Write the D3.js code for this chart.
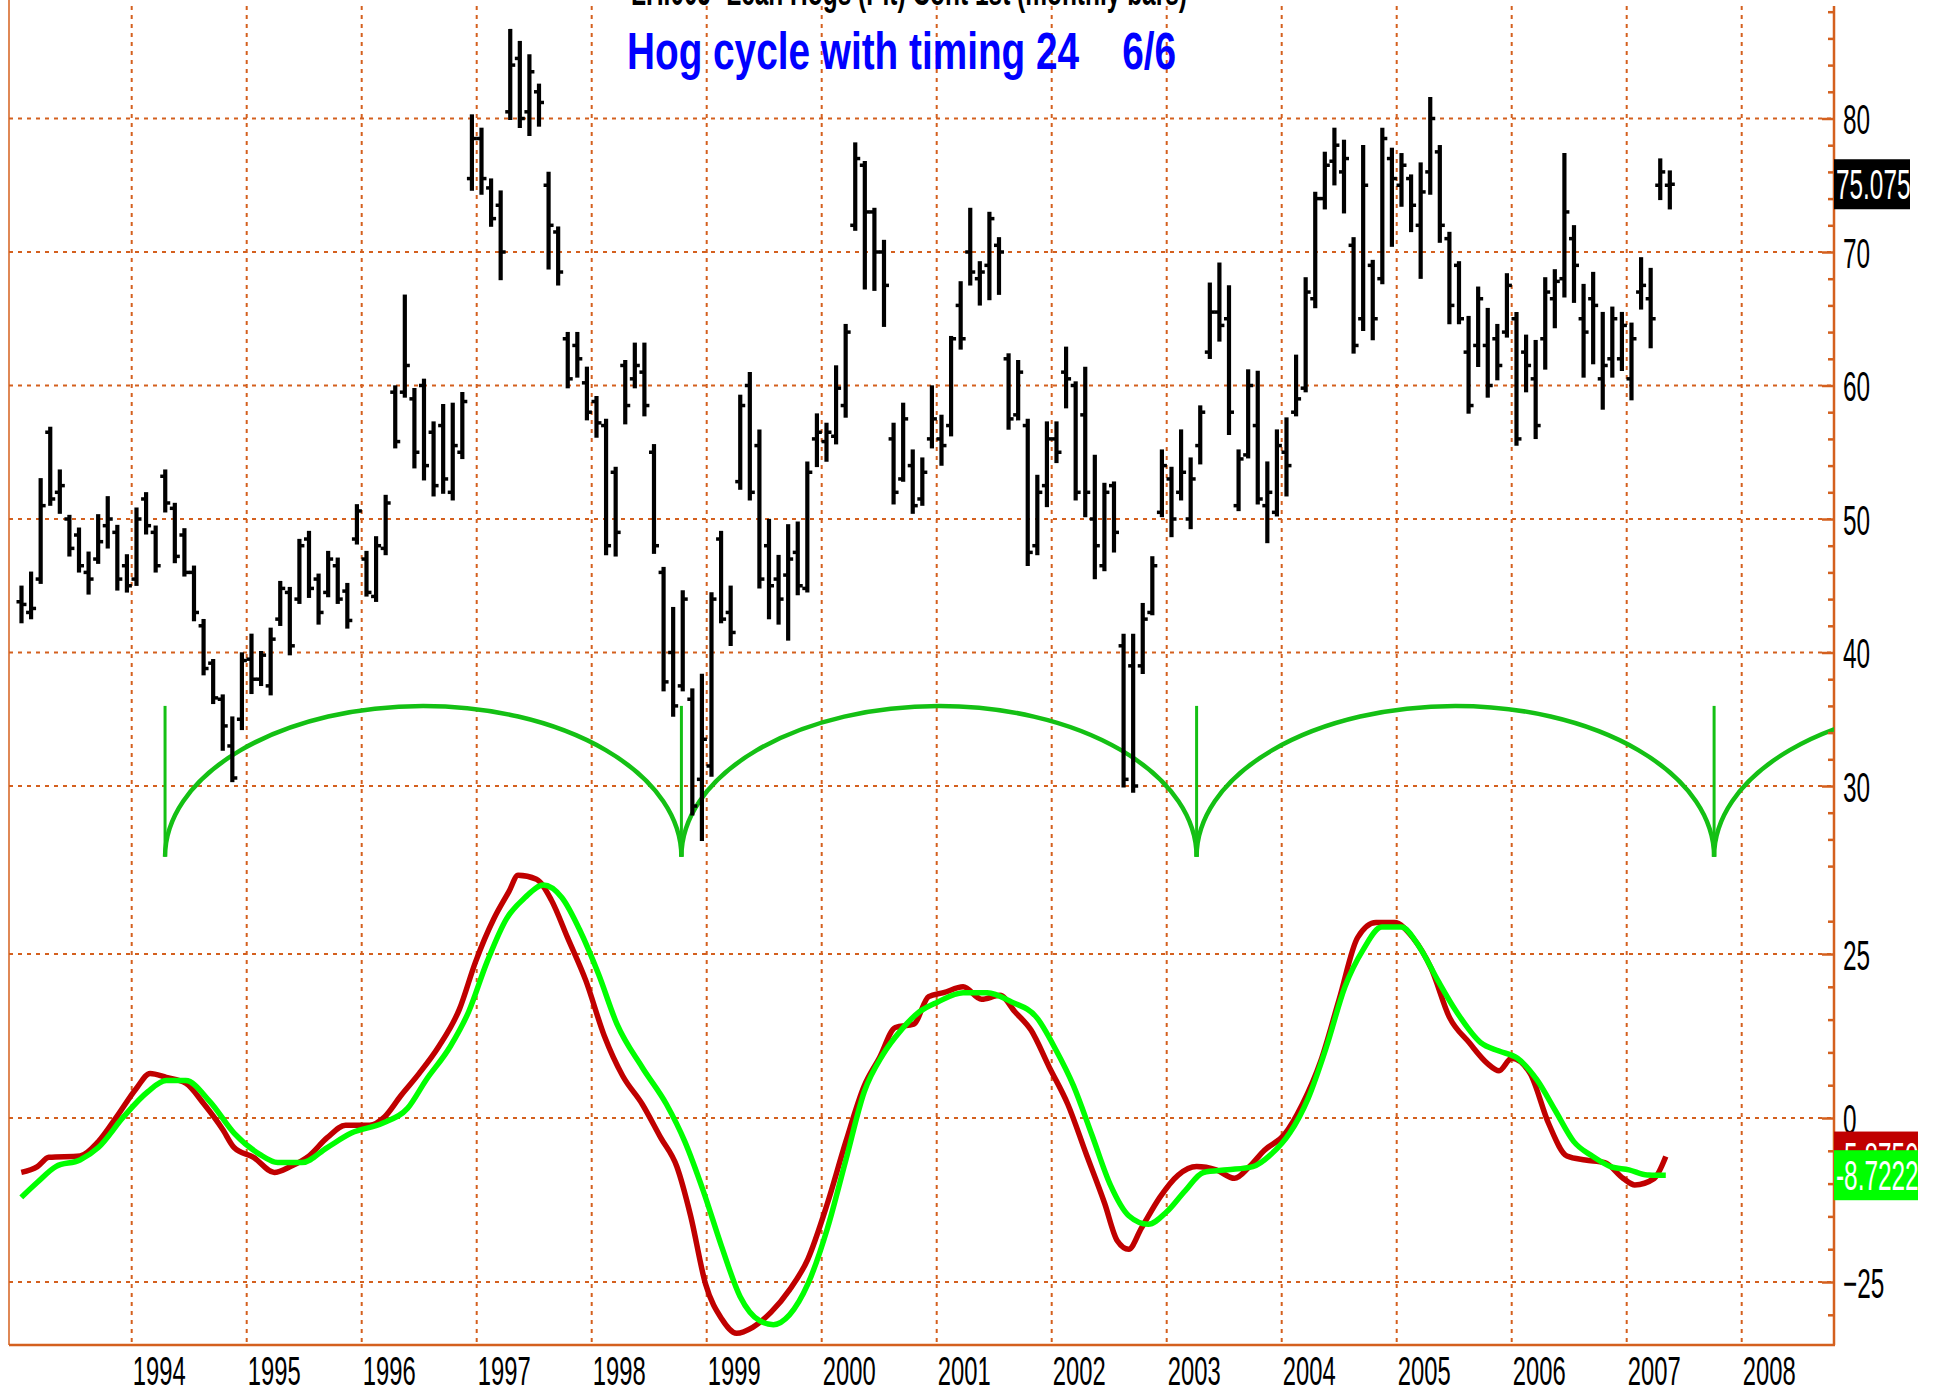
<!DOCTYPE html>
<html>
<head>
<meta charset="utf-8">
<script src="https://cdn.jsdelivr.net/npm/d3@7"></script>
<style>
  body { margin: 0; background: #fff; }
  svg { display: block; }
</style>
</head>
<body>
<div id="chart"></div>
<script>
var WIDTH = 1935;
var HEIGHT = 1393;
var PLOT = { LEFT: 9, RIGHT: 1834, TOP: 6, BOTTOM: 1345 };
var FONT = "'Liberation Sans', Arial, Helvetica, sans-serif";
var GRID = '#d4601e';
var NARROW = 0.58;
var LABEL_SIZE = 42;

// monthly bars, first bar = Jan 1993
const firstYear = 1993;
const high = [
  44.9, 45.95, 52.95, 56.8, 53.6, 50.2, 49.25, 47.45, 50.25, 51.6, 49.45, 47.25,
  50.75, 51.9, 49.4, 53.6, 51.1, 49.2, 46.4, 42.4, 39.4, 36.75, 35.1, 39.9,
  41.3, 40.0, 41.75, 45.25, 44.8, 48.4, 49.0, 45.8, 47.5, 47.0, 45.1, 51.0,
  47.5, 48.6, 51.7, 59.9, 66.7, 59.7, 60.4, 57.2, 58.5, 58.6, 59.4, 80.2,
  79.2, 75.4, 74.5, 86.6, 85.7, 84.7, 82.5, 75.9, 71.8, 63.9, 63.9, 61.3,
  59.1, 57.4, 53.8, 61.8, 63.1, 63.1, 55.5, 46.3, 43.3, 44.55, 37.2, 38.3,
  44.4, 49.0, 44.9, 59.2, 60.9, 56.6, 49.9, 47.2, 49.5, 49.7, 54.2, 57.8,
  57.1, 61.4, 64.5, 78.1, 76.7, 73.2, 70.8, 57.1, 58.6, 55.1, 54.5, 59.9,
  57.7, 63.6, 67.7, 73.2, 69.2, 72.9, 71.0, 62.3, 61.8, 57.4, 53.2, 57.2,
  57.2, 62.8, 60.2, 61.3, 54.7, 52.6, 52.7, 41.3, 41.3, 43.6, 47.1, 55.1,
  53.8, 56.6, 54.5, 58.4, 67.6, 69.1, 67.4, 55.1, 61.1, 61.0, 54.2, 56.6,
  57.5, 62.2, 68.0, 74.4, 77.4, 79.2, 78.3, 71.0, 77.9, 69.3, 79.2, 77.7,
  77.3, 75.7, 76.6, 81.5, 77.9, 71.4, 69.2, 65.1, 67.3, 65.7, 64.5, 68.3,
  65.4, 63.7, 63.3, 68.0, 68.6, 77.3, 71.9, 67.5, 68.4, 65.4, 65.8, 65.4,
  64.6, 69.5, 68.7, 76.9, 76.0
];
const low = [
  42.3, 42.6, 45.25, 51.1, 50.5, 47.3, 46.1, 44.45, 46.75, 47.9, 44.75, 44.6,
  45.1, 48.95, 46.1, 50.6, 46.8, 45.8, 42.45, 38.4, 36.25, 32.75, 30.4, 34.3,
  37.0, 37.6, 36.9, 42.1, 39.9, 43.75, 44.2, 42.2, 44.25, 43.75, 41.9, 48.2,
  44.3, 43.9, 47.4, 55.4, 59.2, 53.9, 53.0, 51.8, 52.0, 51.5, 54.6, 74.7,
  74.4, 72.0, 68.0, 80.0, 79.4, 78.8, 79.5, 68.8, 67.6, 59.9, 60.7, 57.5,
  56.2, 47.4, 47.3, 57.2, 59.9, 57.8, 47.5, 37.2, 35.3, 37.2, 27.9, 26.0,
  30.8, 42.3, 40.6, 52.3, 51.5, 44.9, 42.6, 42.2, 41.0, 44.4, 44.6, 54.0,
  54.4, 55.7, 57.7, 71.7, 67.3, 67.2, 64.5, 51.2, 52.9, 50.5, 51.1, 55.4,
  54.1, 56.3, 62.8, 67.6, 66.1, 66.5, 66.9, 56.8, 57.5, 46.6, 47.4, 51.0,
  54.3, 58.4, 51.5, 50.25, 45.6, 46.2, 47.6, 30.0, 29.6, 38.5, 42.9, 50.25,
  48.75, 51.5, 49.35, 54.2, 62.1, 63.4, 56.4, 50.7, 54.65, 51.2, 48.3, 50.3,
  51.8, 57.8, 59.6, 65.9, 73.3, 75.1, 73.0, 62.5, 64.2, 63.5, 67.7, 70.5,
  73.5, 71.6, 68.1, 74.4, 70.8, 64.7, 64.7, 58.0, 61.5, 59.2, 60.5, 63.7,
  55.6, 59.6, 56.1, 61.3, 64.4, 66.7, 66.3, 60.7, 61.7, 58.3, 60.7, 61.2,
  59.0, 65.8, 62.9, 74.0, 73.3
];
const open = [
  43.8, 43.0, 45.5, 56.5, 52.0, 50.0, 48.8, 46.0, 47.0, 49.5, 49.0, 46.5,
  45.5, 51.5, 49.0, 53.2, 50.8, 48.8, 46.0, 42.0, 39.2, 36.5, 33.0, 35.0,
  39.5, 38.0, 37.5, 42.5, 44.5, 44.0, 48.5, 45.5, 44.5, 46.5, 44.6, 48.5,
  47.0, 44.2, 47.8, 59.5, 59.5, 59.0, 60.0, 56.5, 57.0, 52.0, 55.0, 75.5,
  78.5, 74.8, 73.5, 80.5, 84.5, 80.5, 82.0, 75.0, 71.5, 63.5, 63.0, 60.2,
  58.8, 57.0, 53.5, 61.5, 60.5, 61.0, 55.0, 46.0, 40.0, 37.5, 36.5, 30.5,
  31.5, 48.5, 43.0, 52.8, 60.0, 55.5, 48.0, 45.5, 45.8, 47.5, 44.8, 56.0,
  55.8, 56.2, 58.5, 72.0, 76.5, 73.0, 70.0, 56.0, 53.0, 54.0, 51.5, 56.0,
  56.0, 57.0, 66.0, 70.0, 68.0, 69.0, 70.5, 62.0, 57.8, 57.0, 48.0, 52.5,
  56.0, 61.0, 60.0, 57.8, 50.0, 46.5, 52.5, 40.5, 39.0, 39.0, 43.0, 50.5,
  53.0, 52.0, 50.0, 55.5, 62.5, 65.5, 65.0, 51.0, 54.8, 57.0, 51.0, 50.5,
  55.0, 58.0, 59.8, 66.5, 74.0, 76.8, 76.0, 70.5, 65.0, 69.0, 68.0, 77.0,
  75.0, 75.5, 72.0, 76.0, 77.5, 71.0, 69.0, 62.5, 63.0, 63.0, 63.5, 64.0,
  65.0, 62.5, 60.5, 63.5, 66.5, 68.0, 71.0, 65.0, 66.5, 60.5, 62.0, 62.0,
  60.5, 67.0, 66.5, 75.0, 75.0
];
const close = [
  43.6, 43.3, 51.0, 51.5, 52.5, 47.8, 46.5, 45.5, 48.3, 50.0, 45.5, 45.0,
  50.0, 49.5, 46.5, 51.2, 47.2, 46.0, 43.0, 38.8, 36.6, 34.5, 30.6, 39.4,
  38.0, 39.8, 41.0, 44.8, 40.5, 48.0, 44.8, 43.0, 47.0, 44.0, 42.4, 50.6,
  44.5, 48.0, 51.2, 55.8, 61.5, 55.0, 54.0, 52.5, 53.0, 55.5, 58.8, 78.5,
  75.5, 72.5, 70.0, 84.0, 80.0, 83.5, 81.2, 72.0, 68.5, 60.5, 62.0, 58.0,
  57.2, 48.0, 49.0, 58.5, 61.5, 58.5, 48.0, 37.8, 36.0, 44.0, 28.5, 33.5,
  44.0, 42.5, 41.5, 58.5, 52.0, 45.5, 45.0, 44.0, 47.0, 45.0, 53.5, 56.5,
  56.5, 59.8, 64.0, 77.0, 73.0, 70.0, 67.5, 52.0, 57.5, 51.0, 53.5, 57.5,
  55.5, 63.5, 63.5, 68.5, 68.5, 72.5, 70.0, 57.5, 61.0, 47.5, 52.0, 56.0,
  55.0, 60.5, 52.0, 52.0, 48.0, 52.0, 49.0, 30.5, 30.0, 42.5, 46.5, 54.0,
  50.0, 53.5, 53.0, 58.0, 65.5, 64.5, 58.0, 54.5, 60.0, 51.5, 52.0, 55.5,
  54.0, 59.0, 67.0, 74.0, 76.5, 78.0, 77.0, 63.0, 75.0, 65.0, 78.5, 75.5,
  76.5, 73.5, 74.5, 80.0, 72.0, 66.0, 65.0, 58.5, 66.5, 60.0, 61.5, 67.5,
  56.0, 61.5, 57.0, 67.0, 67.8, 73.0, 69.0, 64.0, 66.0, 61.5, 65.0, 64.5,
  63.5, 67.5, 65.0, 76.0, 75.075
];

// cycle lows (decimal years) and the band the arches span
const cycleTroughs = [1994.29, 1998.78, 2003.26, 2007.76];
const cycleLow = 24.7;
const cycleHigh = 36.0;

// oscillator lines (decimal year, value)
const redTime = [
  1993.04, 1993.18, 1993.28, 1993.55, 1993.71, 1993.87, 1994.04, 1994.16, 1994.30, 1994.47,
  1994.63, 1994.79, 1994.89, 1995.06, 1995.24, 1995.38, 1995.54, 1995.70, 1995.86, 1996.07,
  1996.20, 1996.34, 1996.50, 1996.67, 1996.85, 1996.99, 1997.15, 1997.28, 1997.36, 1997.52,
  1997.65, 1997.79, 1997.95, 1998.11, 1998.27, 1998.44, 1998.60, 1998.74, 1998.86, 1998.99,
  1999.13, 1999.26, 1999.40, 1999.56, 1999.72, 1999.88, 2000.05, 2000.21, 2000.37, 2000.50,
  2000.64, 2000.80, 2000.93, 2001.06, 2001.23, 2001.39, 2001.55, 2001.68, 2001.82, 2001.98,
  2002.14, 2002.30, 2002.46, 2002.57, 2002.67, 2002.78, 2002.94, 2003.10, 2003.26, 2003.43,
  2003.59, 2003.72, 2003.85, 2004.02, 2004.18, 2004.34, 2004.50, 2004.66, 2004.82, 2004.98,
  2005.14, 2005.30, 2005.46, 2005.63, 2005.79, 2005.89, 2006.00, 2006.16, 2006.32, 2006.48,
  2006.64, 2006.81, 2006.97, 2007.07, 2007.24, 2007.34
];
const redValue = [
  -8.3, -7.4, -6.0, -5.8, -3.6, 0.2, 4.5, 6.8, 6.2, 5.3,
  2.1, -1.7, -4.5, -6.0, -8.3, -7.4, -5.8, -3.0, -1.1, -1.1,
  0.2, 3.4, 6.8, 10.9, 16.6, 23.8, 30.4, 34.5, 37.0, 36.4,
  33.2, 27.5, 20.9, 12.5, 6.4, 2.1, -3.0, -7.4, -14.9, -25.3,
  -30.6, -32.8, -31.9, -29.6, -26.2, -21.5, -13.0, -3.6, 4.9, 9.1,
  13.8, 14.3, 18.5, 19.1, 20.0, 18.1, 18.7, 16.2, 13.4, 7.7,
  2.1, -5.5, -13.0, -18.7, -20.0, -16.8, -12.1, -8.7, -7.4, -7.9,
  -9.2, -7.4, -4.9, -2.6, 2.1, 8.7, 18.1, 27.5, 29.8, 29.8,
  27.5, 22.8, 15.3, 11.5, 8.3, 7.2, 9.1, 6.8, -0.8, -5.8,
  -6.4, -6.8, -9.2, -10.2, -9.2, -5.875
];
const greenTime = [
  1993.04, 1993.18, 1993.34, 1993.55, 1993.71, 1993.93, 1994.14, 1994.30, 1994.47, 1994.68,
  1994.89, 1995.11, 1995.27, 1995.48, 1995.70, 1995.91, 1996.18, 1996.40, 1996.56, 1996.77,
  1996.93, 1997.09, 1997.26, 1997.42, 1997.58, 1997.74, 1997.90, 1998.06, 1998.22, 1998.44,
  1998.65, 1998.81, 1998.97, 1999.13, 1999.29, 1999.46, 1999.58, 1999.72, 1999.88, 2000.05,
  2000.21, 2000.37, 2000.53, 2000.69, 2000.85, 2001.01, 2001.23, 2001.44, 2001.65, 2001.87,
  2002.03, 2002.19, 2002.35, 2002.51, 2002.67, 2002.84, 2003.00, 2003.16, 2003.32, 2003.53,
  2003.75, 2003.91, 2004.07, 2004.23, 2004.39, 2004.55, 2004.71, 2004.87, 2005.04, 2005.20,
  2005.36, 2005.52, 2005.73, 2005.89, 2006.05, 2006.22, 2006.38, 2006.54, 2006.70, 2006.86,
  2007.02, 2007.18, 2007.34
];
const greenValue = [
  -12.1, -9.8, -7.4, -6.4, -4.5, 0.2, 4.0, 5.7, 5.7, 2.5,
  -2.3, -5.5, -6.8, -6.8, -4.5, -2.3, -0.8, 1.5, 5.8, 10.9,
  16.2, 23.8, 30.4, 33.6, 35.5, 33.6, 28.5, 21.9, 14.3, 7.7,
  2.1, -3.6, -11.1, -19.6, -27.2, -30.9, -31.5, -30.0, -25.3, -16.8,
  -6.4, 4.0, 9.6, 13.4, 16.2, 17.7, 19.1, 19.1, 17.7, 15.3,
  10.6, 4.9, -2.6, -10.2, -14.9, -16.2, -14.3, -11.1, -8.3, -7.9,
  -7.4, -5.5, -2.3, 3.0, 10.9, 20.0, 25.7, 29.1, 29.1, 26.0,
  20.9, 16.2, 11.5, 10.2, 9.1, 5.8, 1.1, -3.6, -5.8, -7.4,
  -7.9, -8.7, -8.7222
];

const years = d3.range(1994, 2009);
const priceGrid = [30, 40, 50, 60, 70, 80];
const priceMinor = d3.range(24, 90, 2).filter(v => v % 10 !== 0);
const oscGrid = [-25, 0, 25];
const oscMinor = [-30, -20, -15, -10, -5, 5, 10, 15, 20, 30];

const lastPrice = { value: 75.075, text: '75.075' };
const lastRed = { value: -5.875, text: '-5.8750' };
const lastGreen = { value: -8.7222, text: '-8.7222' };

const svg = d3.select('#chart')
  .append('svg')
    .attr('width', WIDTH)
    .attr('height', HEIGHT)
    .style('font-family', FONT);

const x = d3.scaleLinear().domain([1994, 2008]).range([131.7, 1741.7]);
const yPrice = d3.scaleLinear().domain([30, 80]).range([786, 118.5]);
const yOsc = d3.scaleLinear().domain([-25, 25]).range([1282, 954]);

svg.append('defs').append('clipPath')
    .attr('id', 'plotclip')
  .append('rect')
    .attr('x', PLOT.LEFT)
    .attr('y', 0)
    .attr('width', PLOT.RIGHT - PLOT.LEFT)
    .attr('height', PLOT.BOTTOM);

// dashed grid
const grid = svg.append('g')
  .attr('stroke', GRID)
  .attr('stroke-width', 2)
  .attr('stroke-dasharray', '4,5');

grid.selectAll('.vgrid')
  .data(years)
  .join('line')
    .attr('class', 'vgrid')
    .attr('x1', d => x(d)).attr('x2', d => x(d))
    .attr('y1', PLOT.TOP).attr('y2', PLOT.BOTTOM);

grid.selectAll('.pgrid')
  .data(priceGrid)
  .join('line')
    .attr('class', 'pgrid')
    .attr('x1', PLOT.LEFT).attr('x2', PLOT.RIGHT)
    .attr('y1', d => yPrice(d)).attr('y2', d => yPrice(d));

grid.selectAll('.ogrid')
  .data(oscGrid)
  .join('line')
    .attr('class', 'ogrid')
    .attr('x1', PLOT.LEFT).attr('x2', PLOT.RIGHT)
    .attr('y1', d => yOsc(d)).attr('y2', d => yOsc(d));

// frame
svg.append('line')
  .attr('x1', PLOT.LEFT).attr('x2', PLOT.LEFT)
  .attr('y1', 0).attr('y2', PLOT.BOTTOM)
  .attr('stroke', GRID).attr('stroke-width', 1.5);
svg.append('line')
  .attr('x1', PLOT.LEFT).attr('x2', PLOT.RIGHT + 1)
  .attr('y1', PLOT.BOTTOM).attr('y2', PLOT.BOTTOM)
  .attr('stroke', GRID).attr('stroke-width', 2.5);
svg.append('line')
  .attr('x1', PLOT.RIGHT).attr('x2', PLOT.RIGHT)
  .attr('y1', PLOT.TOP).attr('y2', PLOT.BOTTOM)
  .attr('stroke', GRID).attr('stroke-width', 2.5);

// cycle arches
const plotArea = svg.append('g').attr('clip-path', 'url(#plotclip)');
const period = cycleTroughs[1] - cycleTroughs[0];
const arches = cycleTroughs.map((t, i) => [t, i < cycleTroughs.length - 1 ? cycleTroughs[i + 1] : t + period]);

plotArea.selectAll('.arch')
  .data(arches)
  .join('path')
    .attr('class', 'arch')
    .attr('fill', 'none')
    .attr('stroke', '#14c014')
    .attr('stroke-width', 4.5)
    .attr('d', d => {
      const x0 = x(d[0]), x1 = x(d[1]);
      const rx = (x1 - x0) / 2;
      const ry = yPrice(cycleLow) - yPrice(cycleHigh);
      return `M${x0},${yPrice(cycleLow)} A${rx},${ry} 0 0 1 ${x1},${yPrice(cycleLow)}`;
    });

plotArea.selectAll('.trough')
  .data(cycleTroughs)
  .join('line')
    .attr('class', 'trough')
    .attr('x1', d => x(d)).attr('x2', d => x(d))
    .attr('y1', yPrice(cycleLow)).attr('y2', yPrice(cycleHigh))
    .attr('stroke', '#14c014')
    .attr('stroke-width', 3);

// price bars
const bars = high.map((h, i) => ({
  t: firstYear + (i + 0.5) / 12, h: h, l: low[i], o: open[i], c: close[i]
}));

const barG = svg.append('g').attr('stroke', '#000');
barG.selectAll('.hl')
  .data(bars)
  .join('line')
    .attr('class', 'hl')
    .attr('stroke-width', 4.2)
    .attr('x1', d => x(d.t)).attr('x2', d => x(d.t))
    .attr('y1', d => yPrice(d.h) - 1.5).attr('y2', d => yPrice(d.l) + 1.5);
barG.selectAll('.op')
  .data(bars)
  .join('line')
    .attr('class', 'op')
    .attr('stroke-width', 3.5)
    .attr('x1', d => x(d.t) - 5).attr('x2', d => x(d.t))
    .attr('y1', d => yPrice(d.o)).attr('y2', d => yPrice(d.o));
barG.selectAll('.cl')
  .data(bars)
  .join('line')
    .attr('class', 'cl')
    .attr('stroke-width', 3.5)
    .attr('x1', d => x(d.t)).attr('x2', d => x(d.t) + 5)
    .attr('y1', d => yPrice(d.c)).attr('y2', d => yPrice(d.c));

// oscillator
const oscLine = d3.line()
  .x(d => x(d[0]))
  .y(d => yOsc(d[1]))
  .curve(d3.curveMonotoneX);

svg.append('path')
  .datum(redTime.map((t, i) => [t, redValue[i]]))
  .attr('fill', 'none')
  .attr('stroke', '#c00000')
  .attr('stroke-width', 5.5)
  .attr('stroke-linejoin', 'round')
  .attr('d', oscLine);

svg.append('path')
  .datum(greenTime.map((t, i) => [t, greenValue[i]]))
  .attr('fill', 'none')
  .attr('stroke', '#00ff00')
  .attr('stroke-width', 5.5)
  .attr('stroke-linejoin', 'round')
  .attr('d', oscLine);

// right axis
function styleAxis(g) {
  g.select('.domain').remove();
  g.attr('font-family', FONT).attr('font-size', LABEL_SIZE);
  g.selectAll('line').attr('stroke', GRID).attr('stroke-width', 2.5);
  g.selectAll('text')
    .attr('fill', '#000')
    .attr('x', 9 / NARROW)
    .attr('dy', null)
    .attr('y', LABEL_SIZE * 0.358)
    .attr('transform', `scale(${NARROW},1)`);
}

svg.append('g')
  .attr('transform', `translate(${PLOT.RIGHT},0)`)
  .call(d3.axisRight(yPrice).tickValues(priceMinor).tickSizeInner(-6).tickSizeOuter(0).tickFormat(''))
  .call(styleAxis);
svg.append('g')
  .attr('transform', `translate(${PLOT.RIGHT},0)`)
  .call(d3.axisRight(yOsc).tickValues(oscMinor).tickSizeInner(-6).tickSizeOuter(0).tickFormat(''))
  .call(styleAxis);
svg.append('g')
  .attr('transform', `translate(${PLOT.RIGHT},0)`)
  .call(d3.axisRight(yPrice).tickValues(priceGrid).tickSizeInner(-12).tickSizeOuter(0).tickFormat(d3.format('d')))
  .call(styleAxis);
svg.append('g')
  .attr('transform', `translate(${PLOT.RIGHT},0)`)
  .call(d3.axisRight(yOsc).tickValues(oscGrid).tickSizeInner(-12).tickSizeOuter(0).tickFormat(d3.format('d')))
  .call(styleAxis);

// bottom axis
const xAxis = svg.append('g')
  .attr('transform', `translate(0,${PLOT.BOTTOM})`)
  .call(d3.axisBottom(x).tickValues(years).tickSize(0).tickFormat(d3.format('d')));
xAxis.select('.domain').remove();
xAxis.attr('font-family', FONT).attr('font-size', 41);
xAxis.selectAll('text')
  .attr('fill', '#000')
  .attr('x', 27 / NARROW)
  .attr('dy', null)
  .attr('y', 40)
  .attr('transform', `scale(${NARROW},1)`);

// last value boxes
function valueBox(yPos, width, fill, label) {
  const g = svg.append('g').attr('transform', `translate(${PLOT.RIGHT},${yPos})`);
  g.append('rect')
    .attr('x', 0).attr('y', -25)
    .attr('width', width).attr('height', 50)
    .attr('fill', fill);
  g.append('text')
    .attr('x', 2 / NARROW)
    .attr('y', LABEL_SIZE * 0.358)
    .attr('transform', `scale(${NARROW},1)`)
    .attr('fill', '#fff')
    .attr('font-size', LABEL_SIZE)
    .text(label);
}
valueBox(yPrice(lastPrice.value), 76, '#000', lastPrice.text);
valueBox(yOsc(lastRed.value), 84, '#c00000', lastRed.text);
valueBox(yOsc(lastGreen.value), 84, '#00ff00', lastGreen.text);

// titles
svg.append('text')
  .attr('x', 631)
  .attr('y', 5)
  .attr('font-size', 38)
  .attr('font-weight', 'bold')
  .attr('fill', '#000')
  .attr('textLength', 556)
  .attr('lengthAdjust', 'spacingAndGlyphs')
  .text('LH.00J- Lean Hogs (Pit) Cont 1st (monthly bars)');

svg.append('text')
  .attr('x', 627)
  .attr('y', 69)
  .attr('font-size', 51)
  .attr('font-weight', 'bold')
  .attr('fill', '#0000ff')
  .attr('xml:space', 'preserve')
  .style('white-space', 'pre')
  .attr('textLength', 549)
  .attr('lengthAdjust', 'spacingAndGlyphs')
  .text('Hog cycle with timing 24    6/6');
</script>
</body>
</html>
